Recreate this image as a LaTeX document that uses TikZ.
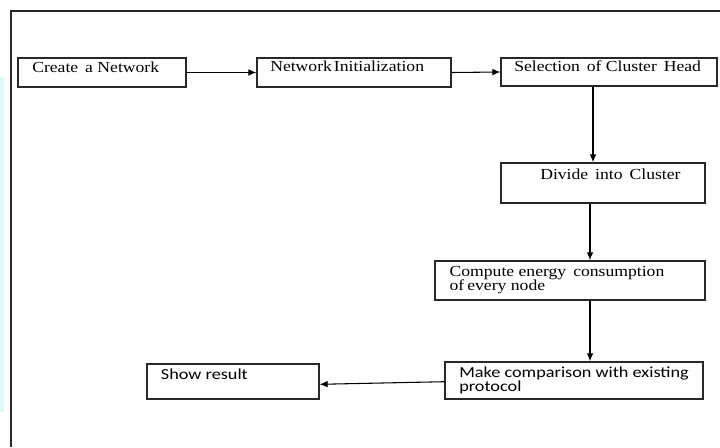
\documentclass[tikz,border=0pt]{standalone}
\usepackage{fontspec}
\setmainfont[FakeStretch=1.15]{Liberation Serif}
\newfontfamily\calfont[FakeStretch=1.19]{Carlito}
\usetikzlibrary{arrows.meta}
\definecolor{linegray}{RGB}{40,40,40}
\definecolor{stripcyan}{RGB}{218,250,250}
\tikzset{
  box/.style={draw=linegray, line width=0.9pt, rectangle, inner sep=0pt},
  txt/.style={anchor=base west, inner sep=0pt, font=\fontsize{11.5}{13}\selectfont},
  ctxt/.style={anchor=base west, inner sep=0pt, font=\calfont\fontsize{11.5}{13}\selectfont},
  arr/.style={draw=black, line width=0.8pt, -{Latex[length=6pt,width=5pt]}},
  varr/.style={draw=black, line width=1.1pt, -{Latex[length=6pt,width=5pt]}},
  frame/.style={draw=linegray, line width=1pt}
}
\begin{document}
\begin{tikzpicture}[x=0.75pt,y=-0.75pt]
\useasboundingbox (0,0) rectangle (720,447);
% light strip on the left edge
\fill[stripcyan] (0,77) rectangle (4,412);
% outer frame (top and left)
\coordinate (ftr) at (720,11);
\coordinate (ftl) at (11,11);
\coordinate (fbl) at (11,447);
\draw[frame] (ftr) -- (ftl) -- (fbl);
% boxes
\node[box, minimum width=126pt, minimum height=21.75pt] (n1) at (102,72.5) {};
\node[box, minimum width=145.5pt, minimum height=21.75pt] (n2) at (354,72.5) {};
\node[box, minimum width=162pt, minimum height=21pt] (n3) at (609,72) {};
\node[box, minimum width=153pt, minimum height=30pt] (n4) at (603,183) {};
\node[box, minimum width=202.5pt, minimum height=29.25pt] (n5) at (570,280.5) {};
\node[box, minimum width=193.5pt, minimum height=27.75pt] (n6) at (574,380.5) {};
\node[box, minimum width=129pt, minimum height=26.25pt] (n7) at (233,381.5) {};
% texts
\node[txt] (t1) at (32,72.7) {Create\, a Network};
\node[txt] (t2) at (270,71) {Network\kern1.5pt Initialization};
\node[txt] (t3) at (514,71) {Selection\, of Cluster\, Head};
\node[txt] (t4) at (540,179.3) {Divide\, into\, Cluster};
\node[txt] (t5a) at (449.3,276.7) {Compute energy\, consumption};
\node[txt] (t5b) at (449.3,290) {of\kern-1pt\ every node};
\node[ctxt] (t6a) at (459,377.7) {Make comparison with existing};
\node[ctxt] (t6b) at (459,391.7) {protocol};
\node[ctxt] (t7) at (160.7,379.3) {Show result};
% connectors
\draw[arr] (n1.east) -- (n2.west);
\draw[arr] (n2.east) -- (n3.west);
\draw[varr] (n3.south -| 593,0) -- (n4.north -| 593,0);
\draw[varr] (n4.south -| 590,0) -- (n5.north -| 590,0);
\draw[varr] (n5.south -| 590,0) -- (n6.north -| 590,0);
\draw[arr] (n6.west |- 0,381.7) -- (n7.east |- 0,384.3);
\end{tikzpicture}
\end{document}
